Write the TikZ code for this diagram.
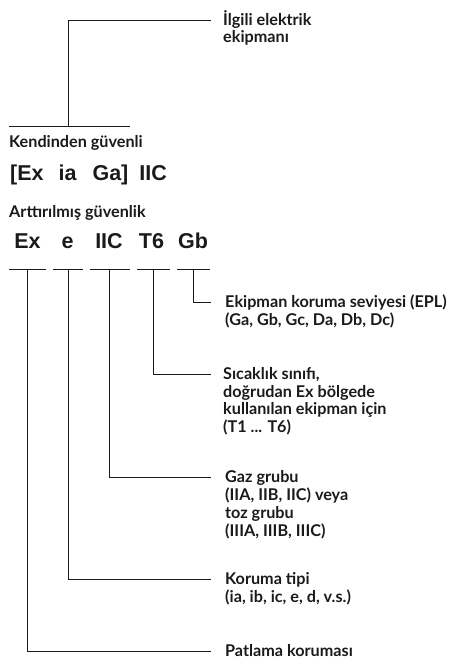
\documentclass[tikz,border=0pt]{standalone}
\usepackage{fontspec}
\setmainfont{Lato}
\newfontfamily\codefamily{Liberation Sans}
\usetikzlibrary{positioning,calc}
\definecolor{inkblack}{RGB}{26,26,26}
% first line of a caption carries the baseline
\newcommand{\captionlines}[1]{\begin{tabular}[t]{@{}l@{}}#1\end{tabular}}

\begin{document}
\begin{tikzpicture}[
        x=1pt, y=-1pt,
        code/.style={font=\codefamily\bfseries\fontsize{21.5}{24}\selectfont, text=inkblack, inner sep=0pt, anchor=base},
        caption/.style={font=\bfseries\fontsize{16.2}{17.6}\selectfont, text=inkblack, inner sep=0pt, anchor=base west},
        leader/.style={line width=0.9pt, draw=inkblack}
    ]
        \useasboundingbox (0,0) rectangle (453,659);

        % Intrinsically safe marking
        \node[caption] (safe) at (9,147) {Kendinden güvenli};
        \node[code, anchor=base west] (assoc) at (10,180) {[Ex\hspace{9pt} ia\hspace{10pt} Ga]\hspace{5pt} IIC};

        % Associated apparatus
        \coordinate (top-bar) at (68,126);
        \coordinate (top-tip) at (211,20);
        \draw[leader] (9,126) -- (130,126);
        \draw[leader] (top-bar) |- (top-tip);
        \node[caption] (ilgili) at ([shift={(12,5)}]top-tip) {\captionlines{İlgili elektrik\\ekipmanı}};

        % Increased safety marking
        \node[caption] (inc) at (9,217) {Arttırılmış güvenlik};
        \node[code] (ex) at (27.5,248) {Ex};
        \node[code] (e) at (67.5,248) {e};
        \node[code] (gas) at (109,248) {IIC};
        \node[code] (temp) at (151.5,248) {T6};
        \node[code] (epl) at (193,248) {Gb};

        % Bars under the code
        \draw[leader] (9,269) -- (46,269);
        \draw[leader] (53,269) -- (83,269);
        \draw[leader] (90,269) -- (130,269);
        \draw[leader] (137,269) -- (170,269);
        \draw[leader] (177,269) -- (210,269);

        % Leader ends
        \coordinate (epl-bar) at (193,269);
        \coordinate (temp-bar) at (153,269);
        \coordinate (gas-bar) at (109,269);
        \coordinate (e-bar) at (68,269);
        \coordinate (ex-bar) at (27,269);
        \coordinate (epl-tip) at (211,302);
        \coordinate (temp-tip) at (211,374);
        \coordinate (gas-tip) at (211,477);
        \coordinate (e-tip) at (211,579);
        \coordinate (ex-tip) at (211,651);

        % Leaders
        \draw[leader] (epl-bar) |- (epl-tip);
        \draw[leader] (temp-bar) |- (temp-tip);
        \draw[leader] (gas-bar) |- (gas-tip);
        \draw[leader] (e-bar) |- (e-tip);
        \draw[leader] (ex-bar) |- (ex-tip);

        % Explanations
        \node[caption] (eplt) at ([shift={(14,5.5)}]epl-tip) {\captionlines{Ekipman koruma seviyesi (EPL)\\(Ga, Gb, Gc, Da, Db, Dc)}};
        \node[caption] (tempt) at ([shift={(12,5.5)}]temp-tip) {\captionlines{Sıcaklık sınıfı,\\doğrudan Ex bölgede\\kullanılan ekipman için\\(T1 ... T6)}};
        \node[caption] (gast) at ([shift={(14,5.5)}]gas-tip) {\captionlines{Gaz grubu\\(IIA, IIB, IIC) veya\\toz grubu\\(IIIA, IIIB, IIIC)}};
        \node[caption] (et) at ([shift={(14,5.5)}]e-tip) {\captionlines{Koruma tipi\\(ia, ib, ic, e, d, v.s.)}};
        \node[caption] (ext) at ([shift={(14,5.5)}]ex-tip) {Patlama koruması};

    \end{tikzpicture}
\end{document}
